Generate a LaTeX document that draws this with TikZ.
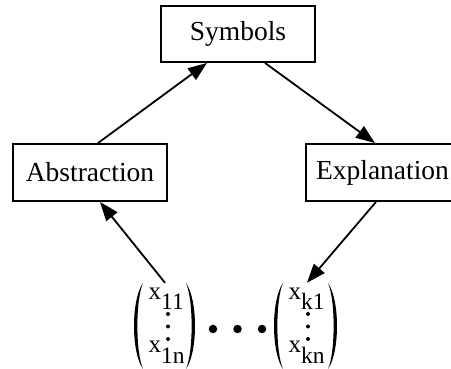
\documentclass[tikz,border=0pt]{standalone}
\usepackage{fontspec}
\setmainfont{Liberation Serif}
\usetikzlibrary{arrows.meta}
\begin{document}
\begin{tikzpicture}[x=1pt,y=-1pt,
  box/.style={draw,line width=1.9pt,rectangle,inner sep=0pt,minimum height=57pt,font=\fontsize{27.5}{32}\selectfont},
  edge/.style={line width=1.8pt,-{Triangle[length=19pt,width=14pt]}},
  mx/.style={inner sep=0pt,anchor=base west,font=\fontsize{25}{28}\selectfont},
  sb/.style={inner sep=0pt,anchor=base west,font=\fontsize{23.5}{28}\selectfont},
  vd/.style={circle,fill,inner sep=0pt,minimum size=4pt},
  bd/.style={circle,fill,inner sep=0pt,minimum size=8.5pt},
  paren/.style={fill=black}]
\useasboundingbox (0,0) rectangle (451,369);
\clip (0,0) rectangle (451,369);
\node[box,minimum width=154pt,minimum height=56pt] (sym) at (238,34) {Symbols};
\node[box,minimum width=154pt] (abs) at (90,172.5) {Abstraction};
\node[box,minimum width=153pt] (exp) at (382.5,172.5) {Explanation};
% matrix nodes
\node[inner sep=0pt,minimum width=58pt,minimum height=86pt] (m1) at (164,326) {};
\node[inner sep=0pt,minimum width=60pt,minimum height=86pt] (m2) at (305,326) {};
% matrix 1 content
\fill[paren] (143,283) .. controls (131,300) and (131,352) .. (143,369) .. controls (135.5,352) and (135.5,300) .. (143,283);
\fill[paren] (186,283) .. controls (198,300) and (198,352) .. (186,369) .. controls (193.5,352) and (193.5,300) .. (186,283);
\node[mx] (x11) at (148.5,300) {x};
\node[sb] (s11) at (161,310) {11};
\node[vd] (d1a) at (168,314) {};
\node[vd] (d1b) at (168,326.5) {};
\node[vd] (d1c) at (168,339) {};
\node[mx] (x1n) at (148.5,353) {x};
\node[sb] (s1n) at (161,363.5) {1n};
% middle dots
\node[bd] (c1) at (213,329) {};
\node[bd] (c2) at (237.5,329) {};
\node[bd] (c3) at (262,329) {};
% matrix 2 content
\fill[paren] (283,283) .. controls (271,300) and (271,352) .. (283,369) .. controls (275.5,352) and (275.5,300) .. (283,283);
\fill[paren] (328,283) .. controls (340,300) and (340,352) .. (328,369) .. controls (335.5,352) and (335.5,300) .. (328,283);
\node[mx] (xk1) at (288.5,300) {x};
\node[sb] (sk1) at (301,310) {k1};
\node[vd] (d2a) at (308,314) {};
\node[vd] (d2b) at (308,326.5) {};
\node[vd] (d2c) at (308,339) {};
\node[mx] (xkn) at (288.5,353) {x};
\node[sb] (skn) at (301,363.5) {kn};
% edges
\draw[edge] ([xshift=8pt]abs.north) -- ([xshift=-31pt]sym.south);
\draw[edge] ([xshift=27pt]sym.south) -- ([xshift=-7.5pt]exp.north);
\draw[edge] ([xshift=1pt]m1.north) -- ([xshift=10pt]abs.south);
\draw[edge] ([xshift=-6.5pt]exp.south) -- ([xshift=2pt]m2.north);
\end{tikzpicture}
\end{document}
